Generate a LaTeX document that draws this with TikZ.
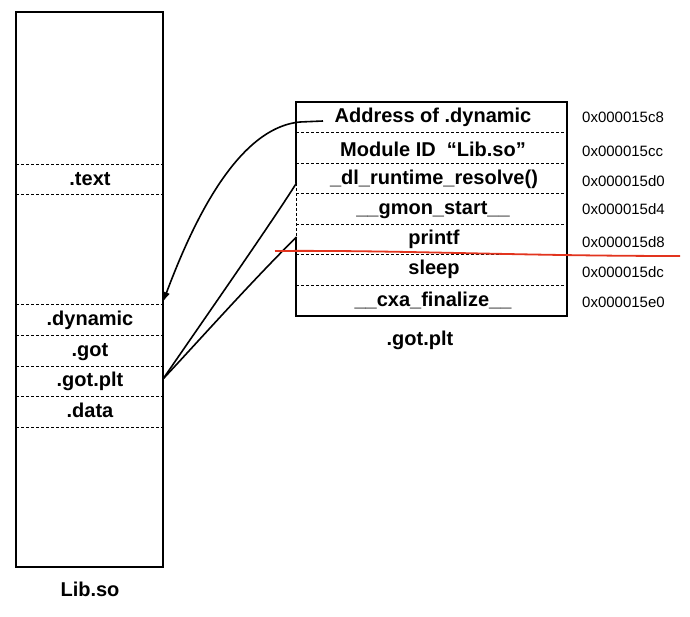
\documentclass[tikz,border=0pt]{standalone}
\usepackage{fontspec}
\setmainfont{Liberation Sans}
\usetikzlibrary{arrows.meta}
\begin{document}
\begin{tikzpicture}[x=1pt,y=-1pt,
  frame/.style={line width=1.7pt},
  sep/.style={line width=1pt, dash pattern=on 3pt off 2pt},
  lbl/.style={font=\bfseries\fontsize{20}{24}\selectfont, inner sep=0pt, anchor=base},
  addr/.style={font=\fontsize{15}{18}\selectfont, inner sep=0pt, anchor=base west},
  link/.style={line width=1.6pt},
  mark line/.style={draw={rgb,255:red,226;green,52;blue,30}, line width=1.8pt},
]
\useasboundingbox (0,0) rectangle (690,617);
% ---------- left box: Lib.so ----------
\draw[frame] (16,12) rectangle (163,567);
\foreach \y in {165,195,305,335,366,396,427} \draw[sep] (16,\y) -- (163,\y);
\node[lbl] (ltext) at (90,186) {.text};
\node[lbl] (ldyn) at (90,325) {.dynamic};
\node[lbl] (lgot) at (90,356) {.got};
\node[lbl] (lgotplt) at (90,386) {.got.plt};
\node[lbl] (ldata) at (90,417) {.data};
\node[lbl] (lib) at (90,596) {Lib.so};
% ---------- right table: .got.plt ----------
\draw[frame] (296,237) -- (296,316) -- (567,316) -- (567,102) -- (296,102) -- (296,183);
\draw[sep] (296,183) -- (296,237);
\foreach \y in {132.6,163.1,193.7,224.3,254.9,285.4} \draw[sep] (296,\y) -- (567,\y);
\node[lbl] (r1) at (433,123) {Address of .dynamic};
\node[lbl] (r2) at (433,157) {Module ID\ \ “Lib.so”};
\node[lbl] (r3) at (434,185) {\_dl\_runtime\_resolve()};
\node[lbl] (r4) at (433,215) {\_\_gmon\_start\_\_};
\node[lbl] (r5) at (434,245) {printf};
\node[lbl] (r6) at (434,275) {sleep};
\node[lbl] (r7) at (433,306) {\_\_cxa\_finalize\_\_};
\node[lbl] (gotplt) at (420,345) {.got.plt};
% addresses
\node[addr] (a1) at (582,123) {0x000015c8};
\node[addr] (a2) at (582,157) {0x000015cc};
\node[addr] (a3) at (582,187) {0x000015d0};
\node[addr] (a4) at (582,215) {0x000015d4};
\node[addr] (a5) at (582,248) {0x000015d8};
\node[addr] (a6) at (582,278) {0x000015dc};
\node[addr] (a7) at (582,308) {0x000015e0};
% ---------- connectors ----------
\coordinate (dynsrc) at (323,121);
\coordinate (dynbend) at (300,122);
\coordinate (dyntip) at (163,302);
\coordinate (resolvesrc) at (296.5,183);
\coordinate (printfsrc) at (296.5,237);
\coordinate (gotplttip) at (163,379);
\draw[link, -{Latex[length=10pt,width=7pt]}] (dynsrc) -- (dynbend) .. controls (235,128) and (190,230) .. (dyntip);
\draw[link] (resolvesrc) .. controls (272,222) and (205,318) .. (gotplttip);
\draw[link] (printfsrc) .. controls (250,283) and (195,345) .. (gotplttip);
% ---------- red annotation line ----------
\coordinate (redl) at (275,251);
\coordinate (redr) at (680,256);
\draw[mark line] (redl) .. controls (400,250) and (520,256) .. (redr);
\end{tikzpicture}
\end{document}
